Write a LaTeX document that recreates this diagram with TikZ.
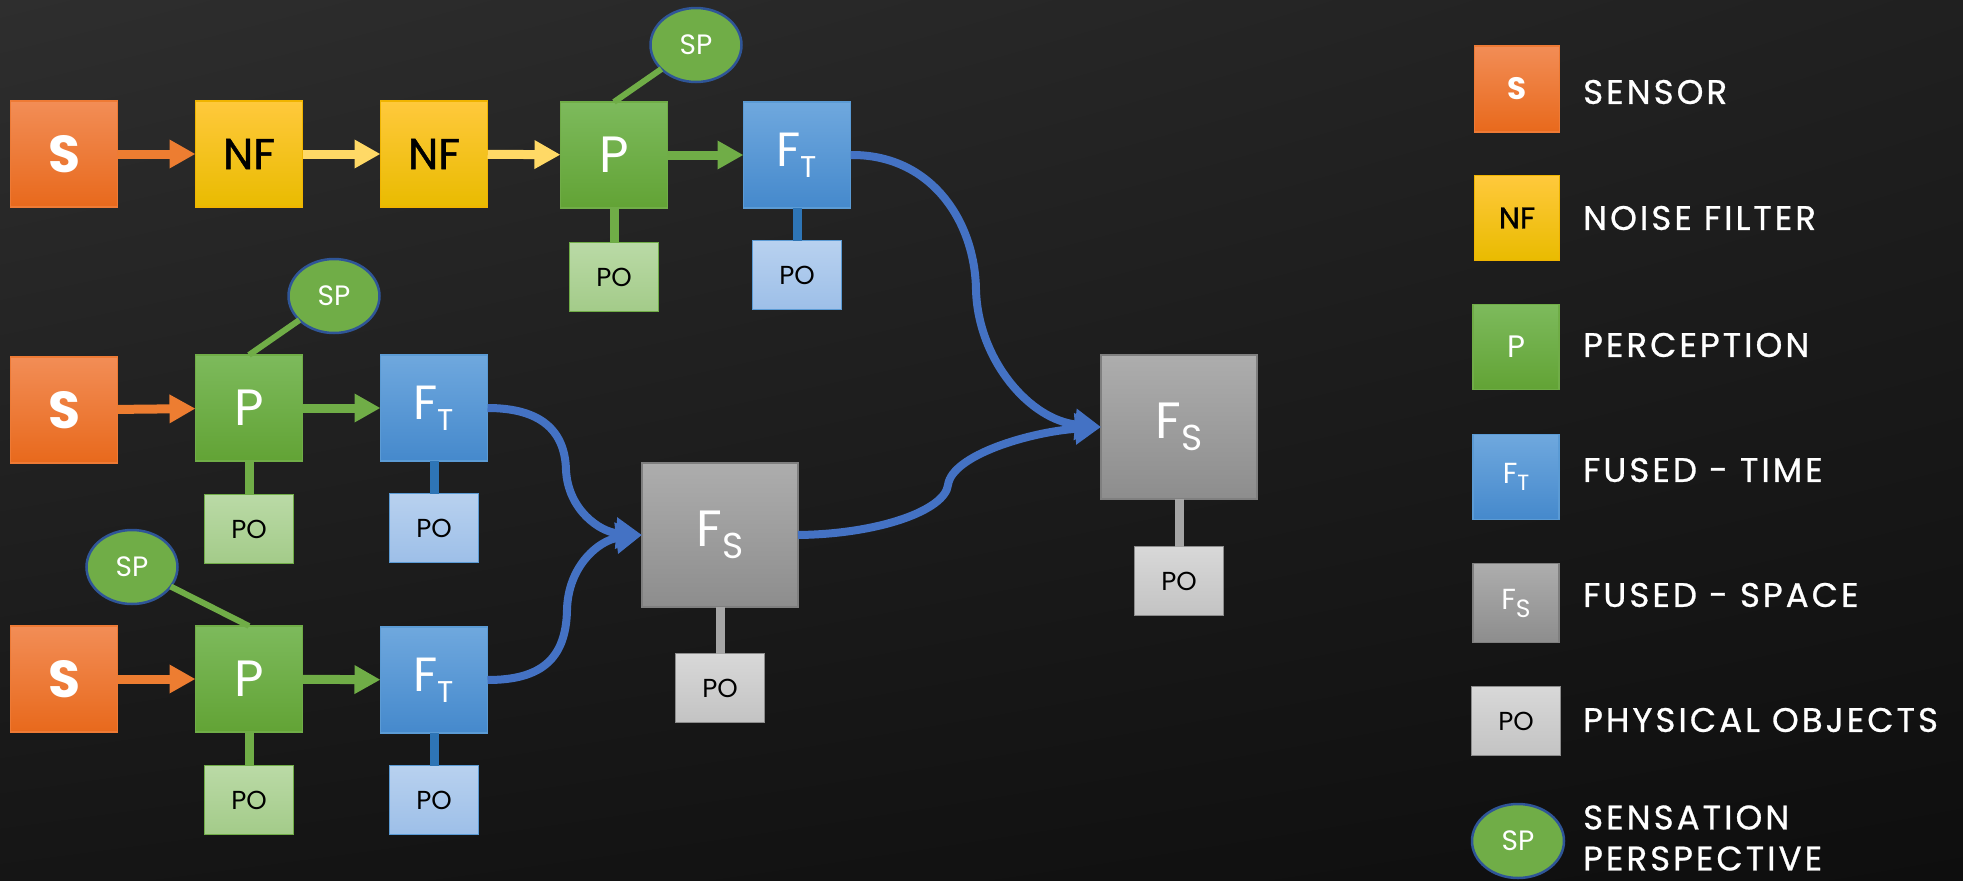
\documentclass[tikz,border=0pt]{standalone}
\usepackage{fontspec}
\setmainfont{Poppins}
\newfontfamily\semib[FakeBold=1.2]{Poppins}
\newfontfamily\legfont[FakeBold=0.8,LetterSpace=9]{Poppins}
\usetikzlibrary{arrows.meta,shapes.geometric,shadings}

% palette
\definecolor{bgA}{HTML}{2E2E2E}
\definecolor{bgB}{HTML}{202020}
\definecolor{bgC}{HTML}{151515}
\definecolor{bgD}{HTML}{0E0E0E}
\definecolor{sTop}{HTML}{F28D56}
\definecolor{sBot}{HTML}{E8691C}
\definecolor{sEdge}{HTML}{EE7A35}
\definecolor{nfTop}{HTML}{FFC93C}
\definecolor{nfBot}{HTML}{E9BB00}
\definecolor{nfEdge}{HTML}{F0B400}
\definecolor{pTop}{HTML}{7DBA5C}
\definecolor{pBot}{HTML}{62A335}
\definecolor{pEdge}{HTML}{70AD47}
\definecolor{tTop}{HTML}{6FA8DE}
\definecolor{tBot}{HTML}{4589CC}
\definecolor{tEdge}{HTML}{5B9BD5}
\definecolor{fsTop}{HTML}{ADADAD}
\definecolor{fsBot}{HTML}{8D8D8D}
\definecolor{fsEdge}{HTML}{7F7F7F}
\definecolor{pogTop}{HTML}{BADAA6}
\definecolor{pogBot}{HTML}{A3CB89}
\definecolor{pobTop}{HTML}{B8D1EF}
\definecolor{pobBot}{HTML}{9DBFE8}
\definecolor{posTop}{HTML}{D8D8D8}
\definecolor{posBot}{HTML}{C3C3C3}
\definecolor{posEdge}{HTML}{8C8C8C}
\definecolor{spFill}{HTML}{70AD47}
\definecolor{spEdge}{HTML}{2F5597}
\definecolor{arrOrange}{HTML}{ED7D31}
\definecolor{arrYellow}{HTML}{FFD966}
\definecolor{arrGreen}{HTML}{70AD47}
\definecolor{curveBlue}{HTML}{4472C4}
\definecolor{stemBlue}{HTML}{2E75B6}
\definecolor{stemGray}{HTML}{A5A5A5}

% letter with a lowered, smaller index letter
\newcommand\idxlabel[4]{#1\raisebox{-#4}{\fontsize{#3}{#3}\selectfont #2}}

\tikzset{
  base/.style={rectangle, inner sep=0pt, outer sep=0pt, line width=1.5pt,
    minimum width=107pt, minimum height=106pt},
  sbox/.style={base, top color=sTop, bottom color=sBot, draw=sEdge, text=white,
    font=\bfseries\fontsize{52}{52}\selectfont},
  nfbox/.style={base, top color=nfTop, bottom color=nfBot, draw=nfEdge, text=black,
    font=\semib\fontsize{43}{43}\selectfont},
  pbox/.style={base, top color=pTop, bottom color=pBot, draw=pEdge, text=white,
    font=\fontsize{51}{51}\selectfont},
  tbox/.style={base, top color=tTop, bottom color=tBot, draw=tEdge, text=white,
    font=\fontsize{48}{48}\selectfont},
  fsbox/.style={base, minimum width=156pt, minimum height=144pt,
    top color=fsTop, bottom color=fsBot, draw=fsEdge, text=white,
    font=\fontsize{51}{51}\selectfont},
  pobox/.style={base, minimum width=89pt, minimum height=69pt, text=black,
    font=\fontsize{26}{26}\selectfont},
  pogreen/.style={pobox, top color=pogTop, bottom color=pogBot, draw=pEdge},
  poblue/.style={pobox, top color=pobTop, bottom color=pobBot, draw=tEdge},
  pogray/.style={pobox, top color=posTop, bottom color=posBot, draw=posEdge},
  spnode/.style={ellipse, minimum width=91pt, minimum height=74pt, inner sep=0pt,
    outer sep=0pt, fill=spFill, draw=spEdge, line width=2.5pt, text=white,
    font=\fontsize{28}{28}\selectfont},
  flow/.style={line width=9pt, -{Triangle[width=27pt,length=26pt]}},
  fuse/.style={line width=8pt, draw=curveBlue, -{Triangle[width=30pt,length=26pt]}},
  stem/.style={line width=9pt},
  splink/.style={line width=6pt, draw=spFill},
  legtext/.style={anchor=west, inner sep=0pt, text=white, align=left,
    font=\legfont\fontsize{34}{41}\selectfont},
}

\begin{document}
\begin{tikzpicture}[x=1pt, y=-1pt]
  % backdrop
  \shade[upper left=bgA, upper right=bgB, lower left=bgC, lower right=bgD]
    (0,0) rectangle (1963,881);
  \useasboundingbox (0,0) rectangle (1963,881);

  % ---- chain 1: sensor, two noise filters, perception, time fusion
  \node[sbox]  (s1)  at (64,154)  {S};
  \node[nfbox] (nf1) at (249,154) {NF};
  \node[nfbox] (nf2) at (434,154) {NF};
  \node[pbox]  (p1)  at (614,155) {P};
  \node[tbox]  (ft1) at (797,155) {\idxlabel{F}{T}{30pt}{11pt}};
  \node[spnode] (sp1) at (696,45) {SP};
  \node[pogreen] (p1po)  at (614,277) {PO};
  \node[poblue]  (ft1po) at (797,275) {PO};

  % ---- chain 2
  \node[sbox] (s2)  at (64,410)  {S};
  \node[pbox] (p2)  at (249,408) {P};
  \node[tbox] (ft2) at (434,408) {\idxlabel{F}{T}{30pt}{11pt}};
  \node[spnode] (sp2) at (334,296) {SP};
  \node[pogreen] (p2po)  at (249,529) {PO};
  \node[poblue]  (ft2po) at (434,528) {PO};

  % ---- chain 3
  \node[sbox] (s3)  at (64,679)  {S};
  \node[pbox] (p3)  at (249,679) {P};
  \node[tbox] (ft3) at (434,680) {\idxlabel{F}{T}{30pt}{11pt}};
  \node[spnode] (sp3) at (132,567) {SP};
  \node[pogreen] (p3po)  at (249,800) {PO};
  \node[poblue]  (ft3po) at (434,800) {PO};

  % ---- space fusion stages
  \node[fsbox] (fs1) at (720,535)  {\idxlabel{F}{S}{36pt}{12pt}};
  \node[pogray] (fs1po) at (720,688)  {PO};
  \node[fsbox] (fs2) at (1179,427) {\idxlabel{F}{S}{36pt}{12pt}};
  \node[pogray] (fs2po) at (1179,581) {PO};

  % ---- straight flows
  \draw[flow, draw=arrOrange] (s1) -- (nf1);
  \draw[flow, draw=arrYellow] (nf1) -- (nf2);
  \draw[flow, draw=arrYellow] (nf2) -- (p1);
  \draw[flow, draw=arrGreen]  (p1) -- (ft1);
  \draw[flow, draw=arrOrange] (s2) -- (p2);
  \draw[flow, draw=arrGreen]  (p2) -- (ft2);
  \draw[flow, draw=arrOrange] (s3) -- (p3);
  \draw[flow, draw=arrGreen]  (p3) -- (ft3);

  % ---- stems to physical objects
  \draw[stem, draw=pEdge]     (p1) -- (p1po);
  \draw[stem, draw=stemBlue]  (ft1) -- (ft1po);
  \draw[stem, draw=pEdge]     (p2) -- (p2po);
  \draw[stem, draw=stemBlue]  (ft2) -- (ft2po);
  \draw[stem, draw=pEdge]     (p3) -- (p3po);
  \draw[stem, draw=stemBlue]  (ft3) -- (ft3po);
  \draw[stem, draw=stemGray]  (fs1) -- (fs1po);
  \draw[stem, draw=stemGray]  (fs2) -- (fs2po);

  % ---- sensation perspective links
  \draw[splink] (sp1) -- (p1.north);
  \draw[splink] (sp2) -- (p2.north);
  \draw[splink] (sp3) -- (p3.north);

  % ---- fusion curves
  \draw[fuse] (ft2.east) .. controls (540,408) and (565,430) .. (566,470)
              .. controls (568,510) and (600,532) .. (fs1.west);
  \draw[fuse] (ft3.east) .. controls (540,680) and (566,660) .. (567,610)
              .. controls (568,565) and (600,540) .. (fs1.west);
  \draw[fuse] (ft1.east) .. controls (930,154) and (975,220) .. (976,290)
              .. controls (978,360) and (1030,420) .. (fs2.west);
  \draw[fuse] (fs1.east) .. controls (880,534) and (945,510) .. (948,485)
              .. controls (952,455) and (1030,432) .. (fs2.west);

  % ---- legend
  \node[sbox, minimum width=85pt, minimum height=86pt,
        font=\bfseries\fontsize{31}{31}\selectfont] (ls) at (1517,89) {S};
  \node[nfbox, minimum width=85pt, minimum height=85pt,
        font=\semib\fontsize{30}{30}\selectfont] (lnf) at (1517,218) {NF};
  \node[pbox, minimum width=86pt, minimum height=85pt,
        font=\fontsize{31}{31}\selectfont] (lp) at (1516,347) {P};
  \node[tbox, minimum width=86pt, minimum height=85pt,
        font=\fontsize{29}{29}\selectfont] (lft) at (1516,477) {\idxlabel{F}{T}{22pt}{7pt}};
  \node[fsbox, minimum width=86pt, minimum height=79pt,
        font=\fontsize{29}{29}\selectfont] (lfs) at (1516,603) {\idxlabel{F}{S}{25pt}{8pt}};
  \node[pogray, font=\fontsize{26}{26}\selectfont] (lpo) at (1516,721) {PO};
  \node[spnode, minimum width=92pt, font=\fontsize{28}{28}\selectfont] (lsp) at (1518,841) {SP};

  \node[legtext] (tsensor) at (1583,92)  {SENSOR};
  \node[legtext] (tnoise)  at (1583,218) {NOISE FILTER};
  \node[legtext] (tperc)   at (1583,345) {PERCEPTION};
  \node[legtext] (ttime)   at (1583,470) {FUSED - TIME};
  \node[legtext] (tspace)  at (1583,595) {FUSED - SPACE};
  \node[legtext] (tphys)   at (1583,720) {PHYSICAL OBJECTS};
  \node[legtext] (tsens)   at (1583,838) {SENSATION\\PERSPECTIVE};
\end{tikzpicture}
\end{document}
